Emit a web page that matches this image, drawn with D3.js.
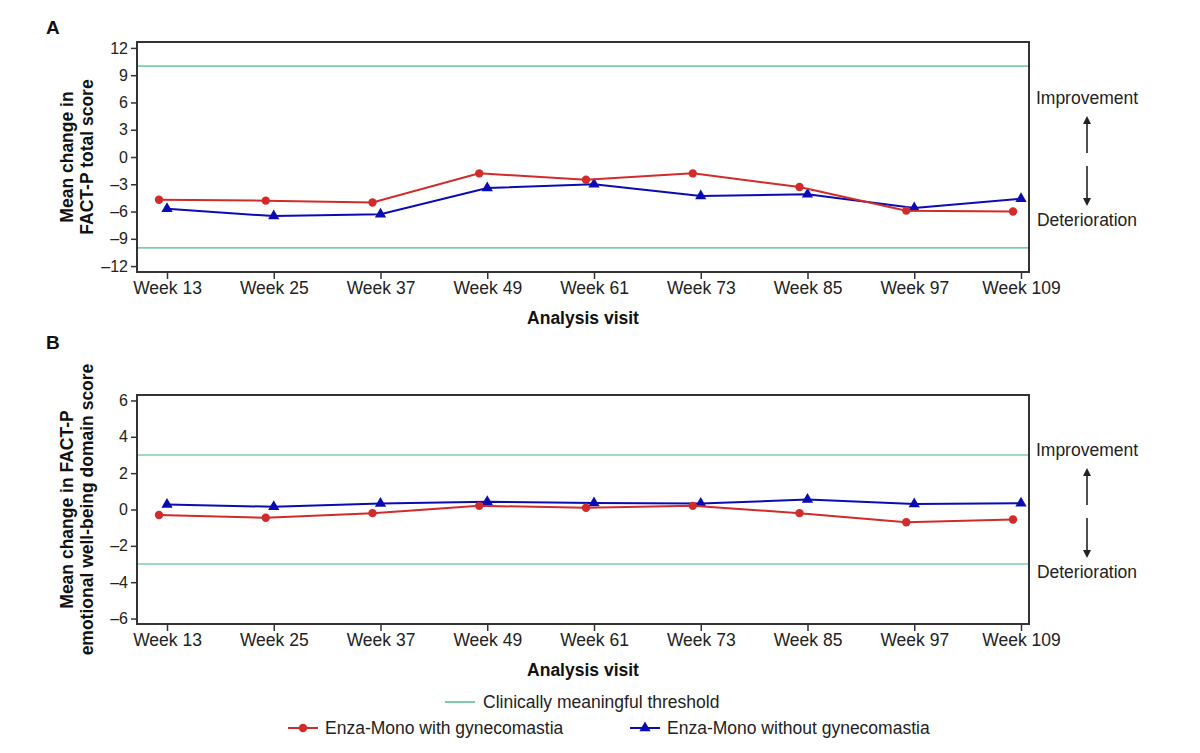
<!DOCTYPE html>
<html>
<head>
<meta charset="utf-8">
<script src="https://cdn.jsdelivr.net/npm/d3@7"></script>
<style>
	body { margin: 0; background: #fff; }
	svg { display: block; font-family: "Liberation Sans", Arial, sans-serif; }
	.tick text { fill: #222; }
</style>
</head>
<body>
<svg id="chart" width="1200" height="753"></svg>
<script>
// visits along the x axis
var weeks = ["Week 13", "Week 25", "Week 37", "Week 49", "Week 61", "Week 73", "Week 85", "Week 97", "Week 109"];

// panel A: FACT-P total score
var totalWith = [-4.7, -4.8, -5.0, -1.8, -2.5, -1.8, -3.3, -5.9, -6.0];
var totalWithout = [-5.7, -6.5, -6.3, -3.4, -3.0, -4.3, -4.1, -5.6, -4.6];
var totalTicks = [12, 9, 6, 3, 0, -3, -6, -9, -12];
var totalThreshold = [10, -10];

// panel B: emotional well-being domain score
var ewbWith = [-0.3, -0.45, -0.2, 0.2, 0.1, 0.2, -0.2, -0.7, -0.55];
var ewbWithout = [0.28, 0.15, 0.33, 0.42, 0.36, 0.33, 0.55, 0.3, 0.35];
var ewbTicks = [6, 4, 2, 0, -2, -4, -6];
var ewbThreshold = [3, -3];

var RED = "#d22b2b", BLUE = "#0b0bb4", GREEN = "#7fcca8", INK = "#222";

var svg = d3.select("#chart");

var x = d3.scalePoint()
	.domain(weeks)
	.range([167, 1021]);

var frameLeft = 137, frameRight = 1029;

// tick labels use an en dash for negatives, like the original
var fmtTick = function(d) { return d < 0 ? "\u2013" + Math.abs(d) : String(d); };

function panel(opts) {
	var g = svg.append("g");
	var y = d3.scaleLinear()
		.domain(opts.domain)
		.range([opts.bottom, opts.top]);

	// threshold lines
	g.selectAll("line.threshold")
		.data(opts.threshold)
		.enter()
		.append("line")
		.attr("class", "threshold")
		.attr("x1", frameLeft)
		.attr("x2", frameRight)
		.attr("y1", function(d) { return y(d); })
		.attr("y2", function(d) { return y(d); })
		.attr("stroke", GREEN)
		.attr("stroke-width", 1.6);

	// y axis
	g.append("g")
		.attr("transform", "translate(" + frameLeft + ",0)")
		.call(d3.axisLeft(y).tickValues(opts.ticks).tickFormat(fmtTick).tickSize(6).tickPadding(3))
		.call(function(a) { a.select(".domain").remove(); })
		.call(function(a) {
			a.selectAll("line").attr("stroke", "#333").attr("stroke-width", 1.5);
			a.selectAll("text").attr("font-size", 16).attr("fill", INK);
		});

	// x axis
	g.append("g")
		.attr("transform", "translate(0," + opts.bottom + ")")
		.call(d3.axisBottom(x).tickSize(7).tickPadding(3))
		.call(function(a) { a.select(".domain").remove(); })
		.call(function(a) {
			a.selectAll("line").attr("stroke", "#333").attr("stroke-width", 1.5);
			a.selectAll("text").attr("font-size", 17.5).attr("fill", INK);
		});

	// frame
	g.append("rect")
		.attr("x", frameLeft)
		.attr("y", opts.top)
		.attr("width", frameRight - frameLeft)
		.attr("height", opts.bottom - opts.top)
		.attr("fill", "none")
		.attr("stroke", "#333")
		.attr("stroke-width", 2);

	var line = d3.line()
		.x(function(d) { return d.x; })
		.y(function(d) { return y(d.v); });

	function pts(vals, dodge) {
		return vals.map(function(v, i) { return { x: x(weeks[i]) + dodge, v: v }; });
	}

	var red = pts(opts.withG, -8);
	var blue = pts(opts.withoutG, 0);

	g.append("path")
		.datum(blue)
		.attr("d", line)
		.attr("fill", "none")
		.attr("stroke", BLUE)
		.attr("stroke-width", 2);

	g.selectAll("path.tri")
		.data(blue)
		.enter()
		.append("path")
		.attr("class", "tri")
		.attr("d", d3.symbol().type(d3.symbolTriangle).size(55))
		.attr("transform", function(d) { return "translate(" + d.x + "," + y(d.v) + ")"; })
		.attr("fill", BLUE);

	g.append("path")
		.datum(red)
		.attr("d", line)
		.attr("fill", "none")
		.attr("stroke", RED)
		.attr("stroke-width", 2);

	g.selectAll("circle")
		.data(red)
		.enter()
		.append("circle")
		.attr("cx", function(d) { return d.x; })
		.attr("cy", function(d) { return y(d.v); })
		.attr("r", 4.2)
		.attr("fill", RED);

	// panel letter
	svg.append("text")
		.attr("x", 46)
		.attr("y", opts.letterY)
		.attr("font-size", 19)
		.attr("font-weight", "bold")
		.attr("fill", "#111")
		.text(opts.letter);

	// axis titles
	var cy = (opts.top + opts.bottom) / 2;
	var yt = svg.append("text")
		.attr("transform", "translate(" + 73 + "," + cy + ") rotate(-90)")
		.attr("text-anchor", "middle")
		.attr("font-size", 17.5)
		.attr("font-weight", "bold")
		.attr("fill", "#111");
	yt.append("tspan").attr("x", 0).attr("dy", 0).text(opts.title[0]);
	yt.append("tspan").attr("x", 0).attr("dy", 20).text(opts.title[1]);

	svg.append("text")
		.attr("x", (frameLeft + frameRight) / 2)
		.attr("y", opts.bottom + 52)
		.attr("text-anchor", "middle")
		.attr("font-size", 17.5)
		.attr("font-weight", "bold")
		.attr("fill", "#111")
		.text("Analysis visit");

	// improvement / deterioration hints
	var ax = 1087;
	svg.append("text")
		.attr("x", ax)
		.attr("y", opts.hintTop + 6)
		.attr("text-anchor", "middle")
		.attr("font-size", 17.5)
		.attr("fill", INK)
		.text("Improvement");
	svg.append("text")
		.attr("x", ax)
		.attr("y", opts.hintTop + 128)
		.attr("text-anchor", "middle")
		.attr("font-size", 17.5)
		.attr("fill", INK)
		.text("Deterioration");
	svg.append("line")
		.attr("x1", ax).attr("x2", ax)
		.attr("y1", opts.hintTop + 55).attr("y2", opts.hintTop + 22)
		.attr("stroke", "#222").attr("stroke-width", 1.6)
		.attr("marker-end", "url(#arrow)");
	svg.append("line")
		.attr("x1", ax).attr("x2", ax)
		.attr("y1", opts.hintTop + 68).attr("y2", opts.hintTop + 104)
		.attr("stroke", "#222").attr("stroke-width", 1.6)
		.attr("marker-end", "url(#arrow)");
}

svg.append("defs").append("marker")
	.attr("id", "arrow")
	.attr("viewBox", "0 0 10 10")
	.attr("refX", 5).attr("refY", 5)
	.attr("markerWidth", 5).attr("markerHeight", 5)
	.attr("orient", "auto")
	.append("path")
	.attr("d", "M0,0 L10,5 L0,10 z")
	.attr("fill", "#222");

panel({
	letter: "A",
	letterY: 34,
	domain: [-12.65, 12.65],
	top: 42, bottom: 272,
	ticks: totalTicks,
	threshold: totalThreshold,
	withG: totalWith,
	withoutG: totalWithout,
	title: ["Mean change in", "FACT-P total score"],
	hintTop: 98
});

panel({
	letter: "B",
	letterY: 349,
	domain: [-6.3, 6.3],
	top: 395, bottom: 624,
	ticks: ewbTicks,
	threshold: ewbThreshold,
	withG: ewbWith,
	withoutG: ewbWithout,
	title: ["Mean change in FACT-P", "emotional well-being domain score"],
	hintTop: 450
});

// legend
var legend = svg.append("g").attr("font-size", 17.5).attr("fill", INK);

legend.append("line")
	.attr("x1", 445).attr("x2", 475)
	.attr("y1", 702).attr("y2", 702)
	.attr("stroke", GREEN).attr("stroke-width", 2);
legend.append("text")
	.attr("x", 483).attr("y", 708)
	.text("Clinically meaningful threshold");

var items = [
	{ x: 288, color: RED, label: "Enza-Mono with gynecomastia", shape: "circle" },
	{ x: 630, color: BLUE, label: "Enza-Mono without gynecomastia", shape: "triangle" }
];

items.forEach(function(it) {
	legend.append("line")
		.attr("x1", it.x).attr("x2", it.x + 30)
		.attr("y1", 728).attr("y2", 728)
		.attr("stroke", it.color).attr("stroke-width", 2);
	if (it.shape === "circle") {
		legend.append("circle")
			.attr("cx", it.x + 15).attr("cy", 728)
			.attr("r", 4.2)
			.attr("fill", it.color);
	} else {
		legend.append("path")
			.attr("d", d3.symbol().type(d3.symbolTriangle).size(55))
			.attr("transform", "translate(" + (it.x + 15) + ",728)")
			.attr("fill", it.color);
	}
	legend.append("text")
		.attr("x", it.x + 37).attr("y", 734)
		.text(it.label);
});
</script>
</body>
</html>
